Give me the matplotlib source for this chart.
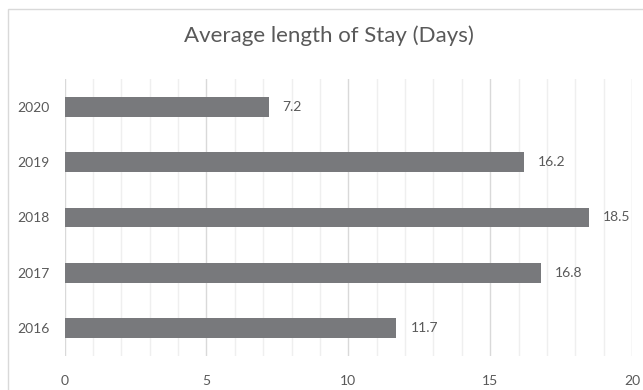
import matplotlib.pyplot as plt
from matplotlib.patches import Rectangle
from matplotlib.ticker import MultipleLocator

years = ["2016", "2017", "2018", "2019", "2020"]
avg_stay = [11.7, 16.8, 18.5, 16.2, 7.2]

plt.rcParams['font.family'] = ['Lato', 'DejaVu Sans']
text_col = '#595959'
bar_col = '#78797c'

fig = plt.figure(figsize=(6.43, 3.9), dpi=100)
# chart area border, runs off the right and bottom edges
fig.patches.append(Rectangle((8 / 643, -0.1), 1.0, 1 - 9 / 390 + 0.1,
                             transform=fig.transFigure, fill=False,
                             edgecolor='#d9d9d9', linewidth=1.0))

ax = fig.add_axes([64.5 / 643, 1 - 356 / 390, (632 - 64.5) / 643, (356 - 79) / 390])
pos = range(len(years))
ax.barh(pos, avg_stay, height=0.36, color=bar_col, zorder=3)
for p, v in zip(pos, avg_stay):
    ax.annotate(f"{v:.1f}", (v, p), xytext=(10, 0), textcoords='offset points',
                ha='left', va='center', fontsize=10, color=text_col)

ax.set_xlim(0, 20)
ax.set_ylim(-0.5, len(years) - 0.5)
ax.set_yticks(list(pos))
ax.set_yticklabels(years)
ax.xaxis.set_major_locator(MultipleLocator(5))
ax.xaxis.set_minor_locator(MultipleLocator(1))
ax.grid(axis='x', which='major', color='#d9d9d9', linewidth=1.0, zorder=0)
ax.grid(axis='x', which='minor', color='#efefef', linewidth=1.0, zorder=0)
ax.tick_params(axis='both', which='both', length=0, labelsize=10, colors=text_col)
ax.tick_params(axis='x', pad=14)
ax.tick_params(axis='y', pad=11)
for s in ax.spines.values():
    s.set_visible(False)

fig.text(329 / 643, 1 - 36 / 390, "Average length of Stay (Days)", ha='center',
         va='center', fontsize=16, color=text_col)

fig.savefig('out.png', dpi=100)
